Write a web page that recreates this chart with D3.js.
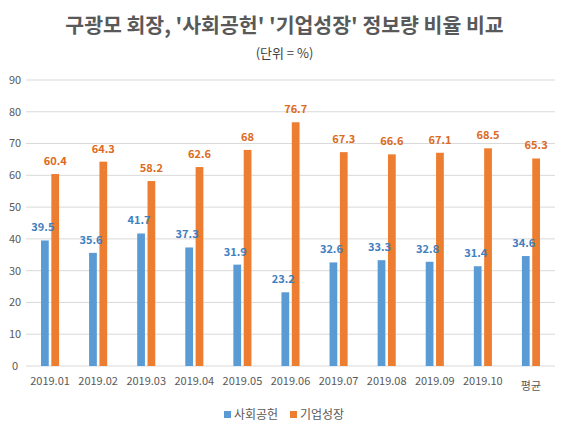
<!DOCTYPE html>
<html>
<head>
<meta charset="utf-8">
<script src="https://cdn.jsdelivr.net/npm/d3@7"></script>
<style>
  body { margin: 0; background: #fff; }
  svg { font-family: "Noto Sans CJK KR", "Noto Sans", sans-serif; }
</style>
</head>
<body>
<svg id="chart" width="569" height="432"></svg>
<script>
const months = ["2019.01", "2019.02", "2019.03", "2019.04", "2019.05", "2019.06", "2019.07", "2019.08", "2019.09", "2019.10", "평균"];
const social = [39.5, 35.6, 41.7, 37.3, 31.9, 23.2, 32.6, 33.3, 32.8, 31.4, 34.6];
const growth = [60.4, 64.3, 58.2, 62.6, 68, 76.7, 67.3, 66.6, 67.1, 68.5, 65.3];
const seriesNames = ["사회공헌", "기업성장"];
const yTicks = [0, 10, 20, 30, 40, 50, 60, 70, 80, 90];

const width = 569, height = 432;
const margin = { top: 80, right: 14, bottom: 66, left: 26 };
const colors = ["#5B9BD5", "#ED7D31"];
const labelColors = ["#3F80C0", "#DC6A20"];

const svg = d3.select("#chart");

svg.append("text")
  .attr("x", width / 2).attr("y", 33)
  .attr("text-anchor", "middle")
  .attr("font-size", 20.5).attr("font-weight", "bold")
  .attr("fill", "#595959")
  .text("구광모 회장, '사회공헌' '기업성장' 정보량 비율 비교");

svg.append("text")
  .attr("x", width / 2).attr("y", 58)
  .attr("text-anchor", "middle")
  .attr("font-size", 13)
  .attr("fill", "#404040")
  .text("(단위 = %)");

const x = d3.scaleBand()
  .domain(months)
  .range([margin.left, width - margin.right]);

const inner = d3.scaleBand()
  .domain([0, 1])
  .range([0, x.bandwidth()])
  .paddingInner(0.25)
  .paddingOuter(1.45);

const y = d3.scaleLinear()
  .domain([0, 90])
  .range([height - margin.bottom, margin.top]);

// grid
svg.append("g")
  .selectAll("line")
  .data(yTicks)
  .join("line")
  .attr("x1", margin.left).attr("x2", width - margin.right)
  .attr("y1", d => y(d)).attr("y2", d => y(d))
  .attr("stroke", "#D9D9D9").attr("stroke-width", 1);

// y axis labels
svg.append("g")
  .selectAll("text")
  .data(yTicks)
  .join("text")
  .attr("x", 15).attr("y", d => y(d))
  .attr("dy", "0.35em")
  .attr("text-anchor", "middle")
  .attr("font-size", 11).attr("fill", "#595959")
  .text(d => d);

const series = [social, growth];

// bars first, labels after so nothing covers them
series.forEach((vals, s) => {
  svg.append("g")
    .selectAll("rect")
    .data(vals)
    .join("rect")
    .attr("x", (d, i) => x(months[i]) + inner(s))
    .attr("y", d => y(d))
    .attr("width", inner.bandwidth())
    .attr("height", d => y(0) - y(d))
    .attr("fill", colors[s]);
});

series.forEach((vals, s) => {
  svg.append("g")
    .selectAll("text")
    .data(vals)
    .join("text")
    .attr("x", (d, i) => x(months[i]) + inner(s) + inner.bandwidth() / 2 - (s === 0 ? 2 : 0))
    .attr("y", d => y(d) - 9)
    .attr("text-anchor", "middle")
    .attr("font-size", 11).attr("font-weight", "bold")
    .attr("fill", labelColors[s])
    .text(d => d);
});

// x labels
svg.append("g")
  .selectAll("text")
  .data(months)
  .join("text")
  .attr("x", d => x(d) + x.bandwidth() / 2)
  .attr("y", (d, i) => i === months.length - 1 ? y(0) + 24 : y(0) + 19)
  .attr("text-anchor", "middle")
  .attr("font-size", 11).attr("fill", "#595959")
  .text(d => d);

// legend
const legend = svg.append("g").attr("transform", "translate(224, 419)");
seriesNames.forEach((name, i) => {
  const g = legend.append("g").attr("transform", `translate(${i * 66}, 0)`);
  g.append("rect").attr("x", 0).attr("y", -8).attr("width", 7).attr("height", 7).attr("fill", colors[i]);
  g.append("text").attr("x", 10).attr("y", 0).attr("font-size", 12).attr("fill", "#595959").text(name);
});
</script>
</body>
</html>
